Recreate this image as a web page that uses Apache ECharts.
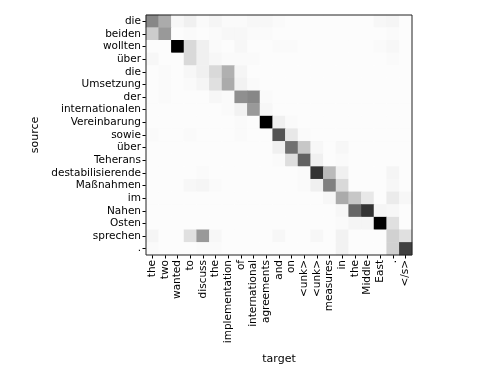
<!DOCTYPE html>
<html><head><meta charset="utf-8">
<script src="https://cdn.jsdelivr.net/npm/echarts@6/dist/echarts.min.js"></script>
<style>html,body{margin:0;padding:0;background:#fff}#c{width:500px;height:375px}</style>
</head><body><div id="c"></div>
<script>
var sources = ["die","beiden","wollten","über","die","Umsetzung","der","internationalen","Vereinbarung","sowie","über","Teherans","destabilisierende","Maßnahmen","im","Nahen","Osten","sprechen","."];
var targets = ["the","two","wanted","to","discuss","the","implementation","of","international","agreements","and","on","<unk>","<unk>","measures","in","the","Middle","East",".","</s>"];
var weights = [
 [.47,.33,.03,.06,.02,.04,.02,.02,.03,.03,.02,.01,.01,.01,.01,.01,.01,.01,.03,.04,.01],
 [.20,.40,.01,.02,.01,.02,.03,.03,.02,.02,.01,.01,.01,.01,.01,.01,.01,.01,.01,.02,.01],
 [.01,.01,1.0,.15,.06,.02,.01,.03,.01,.01,.02,.02,.01,.01,.01,.01,.01,.01,.02,.03,.01],
 [.03,.01,.01,.15,.06,.03,.02,.02,.02,.01,.01,.01,.01,.01,.01,.01,.01,.01,.01,.02,.01],
 [.01,.02,.01,.03,.06,.15,.31,.04,.01,.01,.01,.01,.01,.01,.01,.01,.01,.01,.01,.01,.01],
 [.01,.02,.01,.02,.04,.12,.33,.05,.02,.01,.01,.01,.01,.01,.01,.01,.01,.01,.01,.01,.01],
 [.01,.02,.01,.01,.01,.03,.02,.44,.47,.02,.01,.01,.01,.01,.01,.01,.01,.01,.01,.01,.01],
 [.01,.01,.01,.01,.01,.01,.02,.05,.40,.03,.01,.01,.01,.01,.01,.01,.01,.01,.01,.01,.01],
 [.01,.01,.01,.01,.01,.01,.01,.02,.01,1.0,.06,.02,.01,.01,.01,.01,.01,.01,.01,.01,.01],
 [.02,.01,.01,.02,.01,.01,.01,.02,.01,.01,.67,.09,.02,.01,.01,.01,.01,.01,.01,.01,.01],
 [.01,.01,.01,.01,.01,.01,.01,.01,.01,.01,.06,.56,.22,.03,.01,.03,.01,.01,.01,.01,.01],
 [.01,.01,.01,.01,.01,.01,.01,.01,.01,.01,.02,.13,.62,.06,.01,.02,.01,.01,.01,.01,.01],
 [.01,.01,.01,.01,.02,.01,.01,.01,.01,.01,.01,.01,.02,.80,.27,.06,.01,.01,.01,.04,.01],
 [.01,.01,.01,.03,.04,.02,.01,.01,.01,.01,.01,.01,.02,.06,.50,.15,.01,.01,.01,.03,.01],
 [.01,.01,.01,.01,.01,.01,.01,.01,.01,.01,.01,.01,.01,.01,.03,.33,.22,.09,.01,.08,.03],
 [.01,.01,.01,.01,.01,.01,.01,.01,.01,.01,.01,.01,.01,.01,.01,.03,.60,.80,.04,.03,.01],
 [.01,.01,.01,.01,.01,.01,.01,.01,.01,.01,.01,.01,.01,.01,.01,.02,.04,.04,1.0,.12,.01],
 [.04,.01,.01,.12,.40,.03,.01,.01,.01,.01,.03,.01,.01,.03,.01,.05,.01,.01,.01,.18,.12],
 [.02,.01,.01,.01,.02,.02,.01,.01,.01,.01,.01,.01,.01,.01,.01,.05,.01,.01,.01,.18,.75]
];
var data = [];
weights.forEach(function(row, r){ row.forEach(function(v, c){ data.push([c, r, v]); }); });
var font = "DejaVu Sans";
var chart = echarts.init(document.getElementById('c'), null, {renderer:'canvas'});
chart.setOption({
  animation: false,
  grid: {left:146, top:15, width:266, height:240, show:true, borderColor:'#222', borderWidth:1, backgroundColor:'transparent', z:10},
  xAxis: {type:'category', data:targets, name:'target', nameLocation:'middle', nameGap:99,
    nameTextStyle:{fontFamily:font, fontSize:11, color:'#000'},
    axisLine:{show:false}, splitLine:{show:false},
    axisTick:{show:true, alignWithLabel:true, length:3.5, lineStyle:{color:'#000'}},
    axisLabel:{rotate:90, interval:0, fontFamily:font, fontSize:10.5, color:'#000', margin:5}},
  yAxis: {type:'category', data:sources, inverse:true, name:'source', nameLocation:'middle', nameGap:105, nameRotate:90,
    nameTextStyle:{fontFamily:font, fontSize:11, color:'#000'},
    axisLine:{show:false}, splitLine:{show:false},
    axisTick:{show:true, alignWithLabel:true, length:3.5, lineStyle:{color:'#000'}},
    axisLabel:{interval:0, fontFamily:font, fontSize:10.5, color:'#000', margin:5}},
  visualMap: {show:false, min:0, max:1, inRange:{color:['#ffffff','#000000']}},
  series: [{type:'heatmap', data:data, itemStyle:{borderWidth:0}, emphasis:{disabled:true}}]
});
</script></body></html>
